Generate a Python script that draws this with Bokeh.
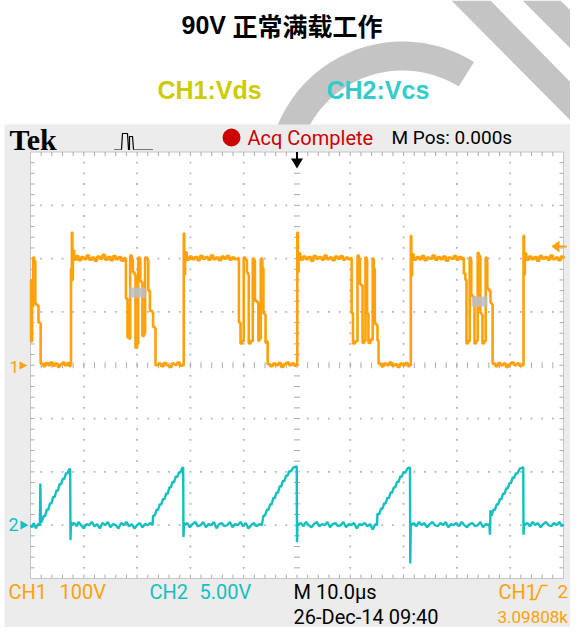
import numpy as np
from bokeh.plotting import figure
from bokeh.models import Range1d, Label
from bokeh.embed import file_html
from bokeh.resources import INLINE

# ---------------- data ----------------
title_num = "90V"
title_cn = "正常满载工作"
legend_ch1 = "CH1:Vds"
legend_ch2 = "CH2:Vcs"

ch1_scale = 100.0   # V/div
ch2_scale = 5.0     # V/div
time_scale = 10.0   # us/div
ch1_pos_div = 0.0
ch2_pos_div = -3.0

# CH1 Vds : (time us, volts)
ch1_samples = [
    (0.0, 160), (0.1, 45), (0.3, 110), (0.5, 202), (0.7, 195), (0.9, 115), (1.2, 112),
    (1.5, 80), (1.8, 78), (1.9, 3),
    (2.4, -2), (2.8, 4), (3.3, 0), (3.7, 5), (4.2, -1), (4.6, 3), (5.1, -3), (5.5, 2),
    (6.0, 5), (6.4, 0), (6.9, 4), (7.3, -2),
    (7.5, 0), (7.6, 180), (7.75, 249), (7.85, 160), (7.95, 215), (8.2, 198), (8.6, 205),
    (9.0, 197), (9.5, 203), (10.0, 199), (10.5, 206), (11.0, 198), (11.5, 202), (12.0, 196),
    (12.5, 204), (13.0, 200), (13.5, 207), (14.0, 198), (14.5, 203), (15.0, 197), (15.5, 205),
    (16.0, 199), (16.5, 203), (17.0, 196), (17.5, 201), (17.8, 199),
    (17.9, 125), (18.2, 52), (18.5, 50), (18.7, 206), (19.0, 200), (19.2, 175), (19.5, 170),
    (19.7, 33), (20.0, 40), (20.2, 202), (20.5, 200), (20.6, 158), (20.8, 155), (21.0, 55),
    (21.3, 60), (21.5, 202), (21.9, 198), (22.1, 140), (22.4, 102), (22.8, 100), (23.0, 72),
    (23.3, 70), (23.45, 0),
    (24.0, 3), (24.5, -2), (25.0, 4), (25.5, 0), (26.0, -3), (26.5, 3), (27.0, 1), (27.5, 5),
    (28.0, -1), (28.5, 2),
    (28.65, 0), (28.75, 247), (28.85, 170), (29.0, 212), (29.3, 198),
    (29.8, 204), (30.3, 199), (30.8, 203), (31.3, 197), (31.8, 205), (32.3, 200), (32.8, 203),
    (33.3, 198), (33.8, 206), (34.3, 199), (34.8, 202), (35.3, 197), (35.8, 204), (36.3, 200),
    (36.8, 205), (37.3, 198), (37.8, 202), (38.3, 199), (38.9, 201),
    (39.1, 80), (39.4, 41), (39.7, 45), (40.0, 202), (40.3, 198), (40.6, 174), (40.8, 170),
    (40.95, 41), (41.3, 45), (41.7, 200), (41.95, 197), (42.1, 121), (42.5, 118), (42.75, 46),
    (42.95, 50), (43.2, 200), (43.5, 183), (43.7, 97), (43.9, 95), (44.1, 42), (44.3, 45),
    (44.5, 2),
    (45.0, -2), (45.5, 3), (46.0, 0), (46.5, 4), (47.0, -3), (47.5, 2), (48.0, 5), (48.5, 0),
    (49.0, 3), (49.5, -1), (49.85, 2),
    (49.95, 0), (50.05, 249), (50.15, 175), (50.3, 210), (50.6, 198),
    (51.1, 204), (51.6, 199), (52.1, 203), (52.6, 196), (53.1, 205), (53.6, 200), (54.1, 203),
    (54.6, 198), (55.1, 206), (55.6, 199), (56.1, 202), (56.6, 197), (57.1, 204), (57.6, 200),
    (58.1, 205), (58.6, 198), (59.1, 202), (59.6, 199), (60.1, 201),
    (60.25, 98), (60.5, 41), (60.9, 45), (61.35, 206), (61.6, 200), (61.8, 153), (62.0, 150),
    (62.3, 42), (62.6, 46), (62.85, 202), (63.05, 198), (63.15, 97), (63.4, 42), (63.8, 48),
    (64.2, 200), (64.4, 181), (64.6, 78), (64.9, 75), (65.1, 46), (65.3, 3),
    (65.8, -2), (66.3, 3), (66.8, 0), (67.3, 5), (67.8, -1), (68.3, 2), (68.8, -3), (69.3, 3),
    (69.8, 0), (70.3, 4), (70.8, -2), (71.15, 1),
    (71.25, 0), (71.35, 243), (71.45, 168), (71.6, 208), (71.9, 198),
    (72.4, 203), (72.9, 199), (73.4, 205), (73.9, 197), (74.4, 202), (74.9, 200), (75.4, 206),
    (75.9, 198), (76.4, 203), (76.9, 199), (77.4, 204), (77.9, 196), (78.4, 202), (78.9, 200),
    (79.4, 205), (79.9, 198), (80.4, 203), (80.9, 199), (81.15, 201),
    (81.3, 172), (81.6, 160), (81.8, 41), (82.1, 45), (82.4, 202), (82.6, 198), (82.7, 131),
    (83.0, 128), (83.3, 41), (83.6, 46), (83.9, 211), (84.1, 205), (84.4, 98), (84.6, 95),
    (84.8, 41), (85.1, 45), (85.4, 202), (85.6, 196), (85.7, 144), (86.0, 140), (86.3, 117),
    (86.5, 115), (86.7, 3),
    (87.2, -2), (87.7, 4), (88.2, 0), (88.7, 3), (89.2, -3), (89.7, 2), (90.2, 5), (90.7, 0),
    (91.2, 3), (91.7, -1), (92.3, 2),
    (92.4, 0), (92.5, 243), (92.6, 170), (92.75, 210), (93.0, 198),
    (93.5, 204), (94.0, 199), (94.5, 203), (95.0, 196), (95.5, 205), (96.0, 200), (96.5, 203),
    (97.0, 198), (97.5, 206), (98.0, 199), (98.5, 202), (99.0, 197), (99.5, 204), (100.0, 200),
]

# CH2 Vcs : (time us, volts)
ch2_samples = [
    (0.0, 0.0), (0.3, -0.2), (0.6, 0.2), (1.0, -0.3), (1.4, 0.1), (1.75, 0.0), (1.85, 3.9),
    (1.95, 0.3),
    (2.1, 0.3), (2.5, 0.9), (2.7, 0.8), (3.1, 1.5), (3.3, 1.4), (3.7, 2.1), (3.9, 2.0),
    (4.3, 2.7), (4.5, 2.6), (4.9, 3.3), (5.1, 3.2), (5.5, 3.9), (5.7, 3.8), (6.1, 4.4),
    (6.3, 4.3), (6.7, 4.9), (6.9, 4.8), (7.3, 5.3), (7.45, 5.2), (7.5, -1.4), (7.6, 0.3),
    (7.7, 0.0),
    (8.2, 0.2), (8.7, -0.1), (9.0, 0.3), (9.5, 0.0), (10.0, -0.3), (10.5, 0.1), (11.0, 0.0),
    (11.5, 0.3), (12.0, -0.1), (12.5, 0.1), (13.0, -0.3), (13.5, 0.2), (14.0, 0.0), (14.5, 0.3),
    (15.0, -0.2), (15.5, 0.1), (16.0, 0.0), (16.5, -0.3), (17.0, 0.2), (17.5, 0.0), (18.0, 0.3),
    (18.5, -0.1), (19.0, 0.1), (19.5, -0.3), (20.0, 0.0), (20.5, 0.2), (21.0, -0.2), (21.5, 0.1),
    (22.0, 0.0), (22.5, 0.2), (22.9, 0.0),
    (23.0, 0.9), (23.3, 0.9), (23.7, 1.5), (23.9, 1.4), (24.3, 2.0), (24.5, 1.9), (24.9, 2.5),
    (25.1, 2.4), (25.5, 3.0), (25.7, 2.9), (26.1, 3.6), (26.3, 3.5), (26.7, 4.1), (26.9, 4.0),
    (27.3, 4.6), (27.5, 4.5), (27.9, 5.0), (28.1, 4.9), (28.5, 5.4), (28.65, 5.4), (28.7, -1.1),
    (28.8, 0.2), (28.9, 0.0),
    (29.4, 0.2), (29.9, -0.2), (30.4, 0.1), (30.9, 0.3), (31.4, -0.1), (31.9, 0.0), (32.4, 0.3),
    (32.9, -0.2), (33.4, 0.1), (33.9, 0.0), (34.4, 0.3), (34.9, -0.3), (35.4, 0.1), (35.9, 0.2),
    (36.4, -0.1), (36.9, 0.0), (37.4, 0.3), (37.9, -0.2), (38.4, 0.1), (38.9, 0.0), (39.4, 0.3),
    (39.9, -0.1), (40.4, 0.2), (40.9, -0.3), (41.4, 0.0), (41.9, 0.2), (42.4, -0.1), (42.9, 0.1),
    (43.4, 0.0),
    (43.7, 0.9), (44.0, 0.9), (44.4, 1.5), (44.6, 1.4), (45.0, 2.0), (45.2, 1.9), (45.6, 2.6),
    (45.8, 2.5), (46.2, 3.1), (46.4, 3.0), (46.8, 3.7), (47.0, 3.6), (47.4, 4.2), (47.6, 4.1),
    (48.0, 4.7), (48.2, 4.6), (48.6, 5.1), (48.8, 5.0), (49.3, 5.4), (49.8, 5.5), (49.95, 5.5),
    (50.0, -1.6), (50.1, 0.2), (50.2, 0.0),
    (50.7, 0.2), (51.2, -0.1), (51.7, 0.3), (52.2, 0.0), (52.7, -0.2), (53.2, 0.1), (53.7, 0.3),
    (54.2, -0.1), (54.7, 0.1), (55.2, 0.0), (55.7, 0.3), (56.2, -0.2), (56.7, 0.1), (57.2, 0.2),
    (57.7, -0.1), (58.2, 0.0), (58.7, 0.3), (59.2, -0.2), (59.7, 0.1), (60.2, 0.0), (60.7, 0.2),
    (61.2, -0.3), (61.7, 0.1), (62.2, 0.0), (62.7, 0.2), (63.2, -0.1), (63.7, 0.1), (64.2, -0.4),
    (64.7, 0.1), (65.0, 0.0),
    (65.1, 1.1), (65.4, 1.0), (65.8, 1.6), (66.0, 1.5), (66.4, 2.1), (66.6, 2.0), (67.0, 2.6),
    (67.2, 2.5), (67.6, 3.1), (67.8, 3.0), (68.2, 3.6), (68.4, 3.5), (68.8, 4.1), (69.0, 4.0),
    (69.4, 4.6), (69.6, 4.5), (70.0, 5.0), (70.3, 4.9), (70.7, 5.3), (71.1, 5.4), (71.2, 5.4),
    (71.25, -3.6), (71.35, 0.2), (71.45, 0.0),
    (71.9, 0.2), (72.4, -0.1), (72.9, 0.3), (73.4, 0.0), (73.9, 0.2), (74.4, -0.2), (74.9, 0.1),
    (75.4, 0.3), (75.9, 0.0), (76.4, -0.1), (76.9, 0.2), (77.4, 0.0), (77.9, 0.3), (78.4, -0.2),
    (78.9, 0.1), (79.4, 0.0), (79.9, 0.2), (80.4, -0.1), (80.9, 0.3), (81.4, 0.0), (81.9, -0.2),
    (82.4, 0.1), (82.9, 0.2), (83.4, -0.1), (83.9, 0.0), (84.4, 0.3), (84.9, -0.2), (85.4, 0.1),
    (85.9, 0.0), (86.1, 0.1),
    (86.2, -0.9), (86.3, 1.4), (86.5, 0.9), (86.9, 1.5), (87.1, 1.4), (87.5, 2.0), (87.7, 1.9),
    (88.1, 2.5), (88.3, 2.4), (88.7, 3.0), (88.9, 2.9), (89.3, 3.5), (89.5, 3.4), (89.9, 4.0),
    (90.1, 3.9), (90.5, 4.5), (90.7, 4.4), (91.1, 4.9), (91.3, 4.8), (91.8, 5.3), (92.3, 5.4),
    (92.45, 5.45), (92.5, -0.9), (92.6, 0.2), (92.7, 0.0),
    (93.2, 0.2), (93.7, -0.1), (94.2, 0.3), (94.7, 0.0), (95.2, 0.2), (95.7, -0.2), (96.2, 0.1),
    (96.7, 0.3), (97.2, 0.0), (97.7, -0.1), (98.2, 0.2), (98.7, 0.0), (99.2, 0.3), (99.7, -0.1),
    (100.0, 0.1),
]

ch1_t = [s[0] for s in ch1_samples]
ch1_v = [s[1] for s in ch1_samples]
ch2_t = [s[0] for s in ch2_samples]
ch2_v = [s[1] for s in ch2_samples]

# ---------------- layout (figure pixel frame) ----------------
W, H = 570, 627
OX, OY = 0, 0
GX0, GX1, GY0, GY1 = 30.0, 563.0, 151.5, 578.0
DX = (GX1 - GX0) / 10.0
DY = (GY1 - GY0) / 8.0
CX = (GX0 + GX1) / 2.0
CY = (GY0 + GY1) / 2.0

ORANGE = "#ffa10a"
CYAN = "#14bfbf"
PANEL = "#ececec"
DOT = "#b4b4b4"

p = figure(width=W, height=H, x_range=Range1d(OX, OX + W), y_range=Range1d(OY + H, OY),
           x_axis_location=None, y_axis_location=None, toolbar_location=None,
           output_backend="svg", min_border=0, background_fill_color="white",
           border_fill_color="white", outline_line_color=None)
p.xgrid.visible = False
p.ygrid.visible = False


def t_of(px):
    return (px - GX0) / DX * time_scale


def v_of(py, scale, pos):
    return ((CY - py) / DY - pos) * scale


p.extra_x_ranges = {"time": Range1d(t_of(OX), t_of(OX + W))}
p.extra_y_ranges = {
    "ch1": Range1d(v_of(OY + H, ch1_scale, ch1_pos_div), v_of(OY, ch1_scale, ch1_pos_div)),
    "ch2": Range1d(v_of(OY + H, ch2_scale, ch2_pos_div), v_of(OY, ch2_scale, ch2_pos_div)),
}

# ---------------- watermark ----------------
WM = "#c4c4c4"
th = np.radians(np.linspace(175, 58, 50))
cxw, cyw, ro, ri = 402.0, 176.0, 135.0, 106.0
arc_x = list(cxw + ro * np.cos(th)) + list(cxw + ri * np.cos(th[::-1]))
arc_y = list(cyw - ro * np.sin(th)) + list(cyw - ri * np.sin(th[::-1]))
p.patch(arc_x, arc_y, fill_color=WM, line_color=None)
p.patch([451, 490, 578, 578], [0, 0, 90, 128], fill_color=WM, line_color=None)
p.patch([522, 560, 578, 578], [0, 0, 18, 56], fill_color=WM, line_color=None)

# ---------------- scope panel ----------------
p.quad(left=4, right=600, top=124, bottom=700, fill_color=PANEL, line_color=None)
p.quad(left=GX0, right=GX1, top=GY0, bottom=GY1, fill_color="white",
       line_color="#c6c6c6", line_width=1)

# grid dots
dx_, dy_ = [], []
for i in range(1, 10):
    if i == 5:
        continue
    for k in range(1, 40):
        dx_.append(GX0 + i * DX)
        dy_.append(GY0 + k * DY / 5)
for j in range(1, 8):
    if j == 4:
        continue
    for k in range(1, 50):
        if k % 5 == 0:
            continue
        dx_.append(GX0 + k * DX / 5)
        dy_.append(GY0 + j * DY)
p.rect(dx_, dy_, width=1.8, height=1.8, fill_color=DOT, line_color=None)

# ticks on centre lines and edges
sx0, sy0, sx1, sy1 = [], [], [], []
for k in range(1, 50):
    x = GX0 + k * DX / 5
    sx0 += [x, x, x]; sx1 += [x, x, x]
    sy0 += [CY - 3, GY0, GY1 - 4]; sy1 += [CY + 3, GY0 + 4, GY1]
for k in range(1, 40):
    y = GY0 + k * DY / 5
    sy0 += [y, y, y]; sy1 += [y, y, y]
    sx0 += [CX - 3, GX0, GX1 - 4]; sx1 += [CX + 3, GX0 + 4, GX1]
p.segment(sx0, sy0, sx1, sy1, line_color="#aaaaaa", line_width=1)

# ---------------- traces ----------------
p.line(ch2_t, ch2_v, x_range_name="time", y_range_name="ch2", line_color=CYAN, line_width=2.4)
p.step(ch1_t, ch1_v, mode="after", x_range_name="time", y_range_name="ch1",
       line_color=ORANGE, line_width=2.6)
# intensity-graded spots
p.quad(left=[129, 471], right=[145, 487], top=[287, 296], bottom=[297, 306],
       fill_color="#b7bfcc", fill_alpha=0.85, line_color=None)

# ---------------- markers ----------------
p.patch([19, 27, 19], [361, 365, 369], fill_color=ORANGE, line_color=None)
p.patch([20, 28, 20], [520, 524.7, 529], fill_color=CYAN, line_color=None)
p.patch([551, 559, 559], [246, 240, 252], fill_color=ORANGE, line_color=None)
p.line([558, 566], [246, 246], line_color=ORANGE, line_width=2)
p.patch([290.5, 302.5, 296.5], [158, 158, 168], fill_color="black", line_color=None)
p.line([296.5, 296.5], [151.5, 160], line_color="black", line_width=2)

# header icons
p.scatter([231], [137], size=18, fill_color="#cc0000", line_color=None)
p.line([114, 121], [149, 149], line_color="black", line_width=1.2, line_dash="1 1")
p.line([121, 122, 127, 128, 129, 129, 132, 133], [149, 133, 133, 149, 149, 136, 136, 149],
       line_color="black", line_width=1.2)
p.line([133, 153], [149, 149], line_color="black", line_width=1.2, line_dash="1 1")
p.line([529, 535, 541, 547], [599, 599, 585, 585], line_color=ORANGE, line_width=1.6)


def lab(x, y, text, size, color, font="Roboto", style="normal", align="left"):
    p.add_layout(Label(x=x, y=y, text=text, text_font=font, text_font_size=f"{size}px",
                       text_color=color, text_font_style=style, text_align=align,
                       text_baseline="middle"))


lab(181, 24, title_num, 25, "black", font="Liberation Sans", style="bold")
lab(232, 24, title_cn, 25, "black", font="Noto Sans CJK SC", style="bold")
lab(157, 89, legend_ch1, 25, "#cccc00", font="Liberation Sans", style="bold")
lab(326, 89, legend_ch2, 25, "#33cccc", font="Liberation Sans", style="bold")

lab(9, 139, "Tek", 30, "black", font="Liberation Serif", style="bold")
lab(247, 137, "Acq Complete", 20, "#cc0000")
lab(391, 137, "M Pos: 0.000s", 19, "black")

lab(9, 366, "1", 17, ORANGE)
lab(8, 524, "2", 18, CYAN)

lab(8, 591, "CH1", 20, ORANGE)
lab(59, 591, "100V", 20, ORANGE)
lab(149, 591, "CH2", 20, CYAN)
lab(199, 591, "5.00V", 20, CYAN)
lab(293, 591, "M 10.0µs", 20, "black")
lab(498, 591, "CH1", 20, ORANGE)
lab(557, 591, "2", 19, ORANGE)
lab(293, 616, "26-Dec-14 09:40", 20, "black")
lab(497, 616, "3.09808k", 17, ORANGE)

open("out.html", "w").write(file_html(p, INLINE, "scope"))
